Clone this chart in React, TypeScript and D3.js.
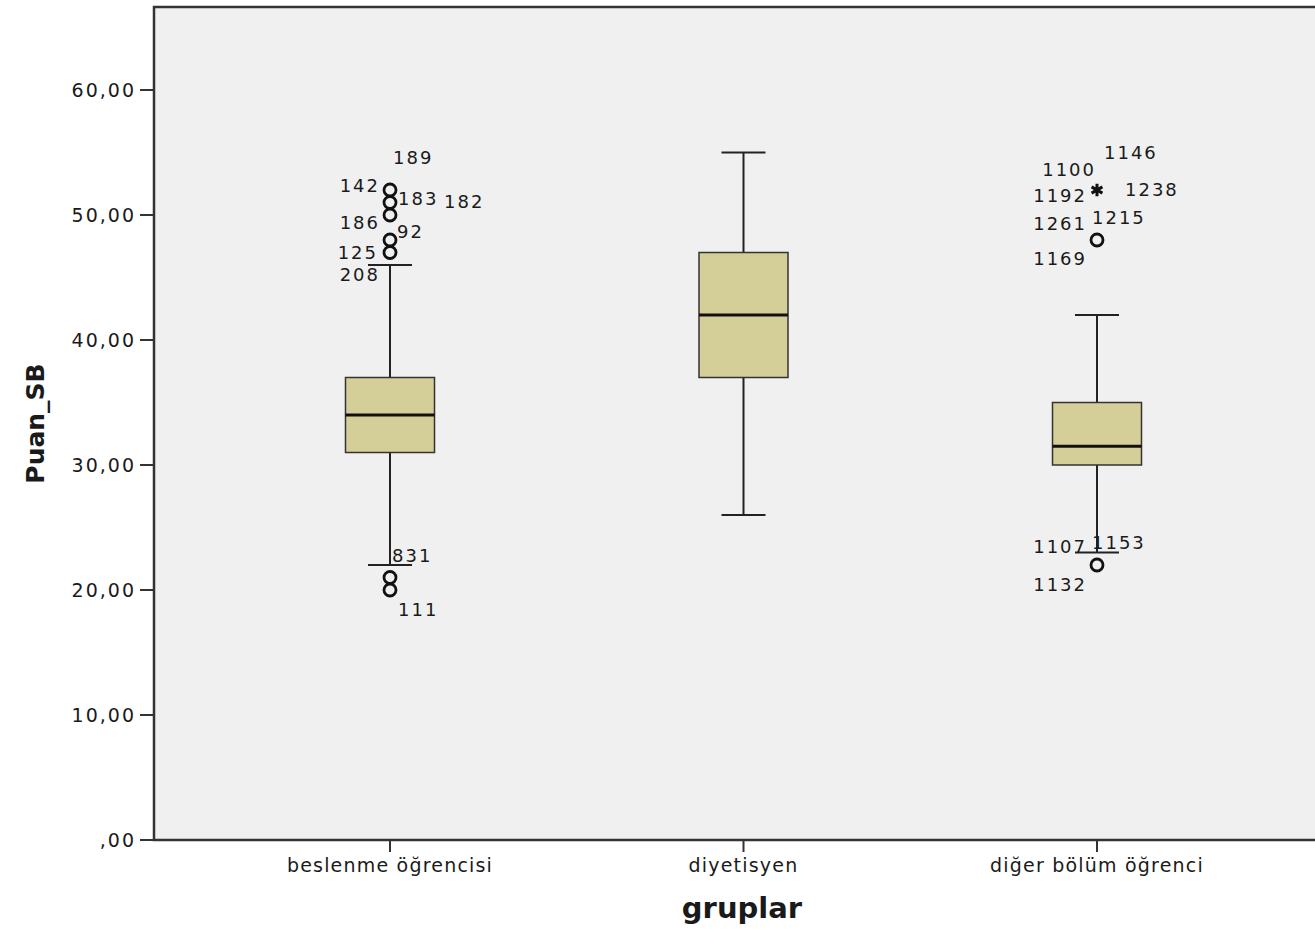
import React from "react";
import * as d3 from "d3";

const categories = ["beslenme öğrencisi", "diyetisyen", "diğer bölüm öğrenci"];
const q1 = [31, 37, 30];
const medians = [34, 42, 31.5];
const q3 = [37, 47, 35];
const whiskerLow = [22, 26, 23];
const whiskerHigh = [46, 55, 42];
const yTicks = [0, 10, 20, 30, 40, 50, 60];
const yTickLabels = [",00", "10,00", "20,00", "30,00", "40,00", "50,00", "60,00"];

// outliers: group index, value, kind
const outlierGroup = [0, 0, 0, 0, 0, 0, 0, 2, 2, 2];
const outlierValue = [52, 51, 50, 48, 47, 21, 20, 52, 48, 22];
const outlierKind = ["o", "o", "o", "o", "o", "o", "o", "*", "o", "o"];

// case labels: which outlier they belong to (index into outlier arrays)
const caseLabels = ["189", "142", "183", "182", "186", "92", "125", "208", "831", "111",
  "1146", "1100", "1192", "1238", "1261", "1215", "1169", "1107", "1153", "1132"];
const caseLabelOutlier = [0, 0, 1, 1, 2, 3, 4, 4, 5, 6, 7, 7, 7, 7, 8, 8, 8, 9, 9, 9];

// label placement relative to its point (layout only)
const labelPlacement: { anchor: string; dx: number; dy: number }[] = [
  { anchor: "start", dx: 3, dy: -32 },
  { anchor: "end", dx: -10, dy: -4 },
  { anchor: "start", dx: 8, dy: -4 },
  { anchor: "start", dx: 54, dy: -1 },
  { anchor: "end", dx: -10, dy: 8 },
  { anchor: "start", dx: 7, dy: -8 },
  { anchor: "end", dx: -12, dy: 0 },
  { anchor: "end", dx: -10, dy: 22 },
  { anchor: "start", dx: 2, dy: -22 },
  { anchor: "start", dx: 8, dy: 20 },
  { anchor: "start", dx: 7, dy: -37 },
  { anchor: "end", dx: -1, dy: -20 },
  { anchor: "end", dx: -10, dy: 6 },
  { anchor: "start", dx: 28, dy: 0 },
  { anchor: "end", dx: -10, dy: -16 },
  { anchor: "start", dx: -5, dy: -22 },
  { anchor: "end", dx: -10, dy: 19 },
  { anchor: "end", dx: -10, dy: -18 },
  { anchor: "start", dx: -5, dy: -22 },
  { anchor: "end", dx: -10, dy: 20 },
];

const W = 1315;
const H = 930;
const plotLeft = 154;
const plotTop = 7;
const plotBottom = 840;
const plotRight = 1340;

export default function App() {
  const y = d3.scaleLinear().domain([0, 60]).range([plotBottom, 90]);
  const x = d3.scalePoint<string>().domain(categories).range([390, 1097]);
  const boxW = 89;
  const capW = 44;
  const font = "'DejaVu Sans', Verdana, sans-serif";
  const star = d3.symbol().type(d3.symbolAsterisk).size(110)();

  return (
    <svg width={W} height={H} style={{ position: "absolute", left: 0, top: 0, background: "#fff" }}>
      <rect x={plotLeft} y={plotTop} width={plotRight - plotLeft} height={plotBottom - plotTop} fill="#f0f0f0" stroke="#333" strokeWidth={2.5} />
      {/* y axis ticks */}
      {yTicks.map((t, i) => (
        <g key={t}>
          <line x1={plotLeft - 14} x2={plotLeft} y1={y(t)} y2={y(t)} stroke="#333" strokeWidth={2} />
          <text x={plotLeft - 18} y={y(t)} dy="0.35em" textAnchor="end" fontFamily={font} fontSize={19} letterSpacing={2} fill="#1a1a1a">
            {yTickLabels[i]}
          </text>
        </g>
      ))}
      {/* x ticks */}
      {categories.map((c) => (
        <g key={c}>
          <line x1={x(c)} x2={x(c)} y1={plotBottom} y2={plotBottom + 12} stroke="#333" strokeWidth={2} />
          <text x={x(c)} y={plotBottom + 32} textAnchor="middle" fontFamily={font} fontSize={19} letterSpacing={1.2} fill="#1a1a1a">
            {c}
          </text>
        </g>
      ))}
      {/* boxes */}
      {categories.map((c, i) => {
        const cx = x(c)!;
        return (
          <g key={"b" + c}>
            <line x1={cx} x2={cx} y1={y(whiskerHigh[i])} y2={y(q3[i])} stroke="#222" strokeWidth={2} />
            <line x1={cx} x2={cx} y1={y(q1[i])} y2={y(whiskerLow[i])} stroke="#222" strokeWidth={2} />
            <line x1={cx - capW / 2} x2={cx + capW / 2} y1={y(whiskerHigh[i])} y2={y(whiskerHigh[i])} stroke="#222" strokeWidth={2} />
            <line x1={cx - capW / 2} x2={cx + capW / 2} y1={y(whiskerLow[i])} y2={y(whiskerLow[i])} stroke="#222" strokeWidth={2} />
            <rect x={cx - boxW / 2} y={y(q3[i])} width={boxW} height={y(q1[i]) - y(q3[i])} fill="#d4cf98" stroke="#333" strokeWidth={1.5} />
            <line x1={cx - boxW / 2} x2={cx + boxW / 2} y1={y(medians[i])} y2={y(medians[i])} stroke="#111" strokeWidth={3} />
          </g>
        );
      })}
      {/* outliers */}
      {outlierValue.map((v, i) => {
        const cx = x(categories[outlierGroup[i]])!;
        const cy = y(v);
        return outlierKind[i] === "*" ? (
          <path key={"o" + i} d={star!} transform={`translate(${cx},${cy})`} fill="none" stroke="#111" strokeWidth={3} />
        ) : (
          <circle key={"o" + i} cx={cx} cy={cy} r={6} fill="none" stroke="#111" strokeWidth={2.8} />
        );
      })}
      {caseLabels.map((lab, i) => {
        const oi = caseLabelOutlier[i];
        const cx = x(categories[outlierGroup[oi]])!;
        const cy = y(outlierValue[oi]);
        const p = labelPlacement[i];
        return (
          <text key={"l" + i} x={cx + p.dx} y={cy + p.dy} dy="0.35em" textAnchor={p.anchor} fontFamily={font} fontSize={18} letterSpacing={2} fill="#1a1a1a">
            {lab}
          </text>
        );
      })}
      <text transform={`translate(44,${(plotTop + plotBottom) / 2}) rotate(-90)`} textAnchor="middle" fontFamily={font} fontSize={25} fontWeight="bold" fill="#1a1a1a">
        Puan_SB
      </text>
      <text x={742} y={918} textAnchor="middle" fontFamily={font} fontSize={29} fontWeight="bold" fill="#1a1a1a">
        gruplar
      </text>
    </svg>
  );
}
